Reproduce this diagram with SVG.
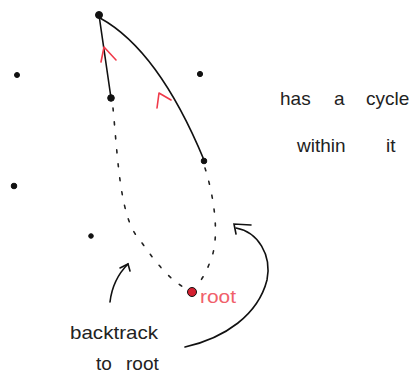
<svg xmlns="http://www.w3.org/2000/svg" width="417" height="374" viewBox="0 0 417 374">
<style>
.node{fill:#111;stroke:#111;stroke-width:1}
.edge{fill:none;stroke:#111;stroke-width:1.6;stroke-linecap:round}
.dot{fill:none;stroke:#222;stroke-width:1.6;stroke-dasharray:3 11;stroke-linecap:round}
.red{fill:none;stroke:#f03a4a;stroke-width:1.6;stroke-linecap:round;stroke-linejoin:round}
.lbl{font-family:"Liberation Sans",Arial,sans-serif;font-size:19px;fill:#222}
.rlbl{font-family:"Liberation Sans",Arial,sans-serif;font-size:18px;fill:#f0606a}
</style>
<rect width="417" height="374" fill="#fff"/>
<g id="connectors">
<path class="edge" d="M99,15 L111,98"/>
<path class="edge" d="M100,18 C140,40 175,90 204,160"/>
<path class="red" d="M101,62 L104,47 L116,60"/>
<path class="red" d="M157,108 L159,93 L171,100"/>
<path class="dot" d="M113,108 C118,160 120,220 140,240 C155,262 170,280 185,288"/>
<path class="dot" d="M205,168 C215,200 220,240 210,262 C205,275 200,282 196,287"/>
<path class="edge" d="M185,347 C225,338 258,315 267,280 C272,255 258,232 236,228"/>
<path class="edge" d="M251,225 L234,224 L236,234"/>
<path class="edge" d="M110,302 C112,285 120,272 128,264"/>
<path class="edge" d="M120,268 L128,264 L130,271"/>
</g>
<g id="n_top"><circle class="node" cx="99" cy="15" r="3.5"/></g>
<g id="n_left"><circle class="node" cx="111" cy="98" r="3.3"/></g>
<g id="n_right"><circle class="node" cx="204" cy="161" r="2.8"/></g>
<g id="n_a"><circle class="node" cx="17" cy="75" r="2.5"/></g>
<g id="n_b"><circle class="node" cx="200" cy="74" r="2.6"/></g>
<g id="n_c"><circle class="node" cx="14" cy="186" r="2.8"/></g>
<g id="n_d"><circle class="node" cx="91" cy="236" r="2.3"/></g>
<g id="n_root">
<circle cx="192" cy="292" r="4.5" fill="#d42030" stroke="#111" stroke-width="1"/>
<text class="rlbl" x="200" y="303" textLength="36" lengthAdjust="spacingAndGlyphs">root</text>
</g>
<g id="labels">
<text class="lbl" y="105"><tspan x="280">has</tspan><tspan x="334">a</tspan><tspan x="366">cycle</tspan></text>
<text class="lbl" y="152"><tspan x="297">within</tspan><tspan x="386">it</tspan></text>
<text class="lbl" x="70" y="339" textLength="88" lengthAdjust="spacingAndGlyphs">backtrack</text>
<text class="lbl" y="370"><tspan x="96">to</tspan><tspan x="126">root</tspan></text>
</g>
</svg>
